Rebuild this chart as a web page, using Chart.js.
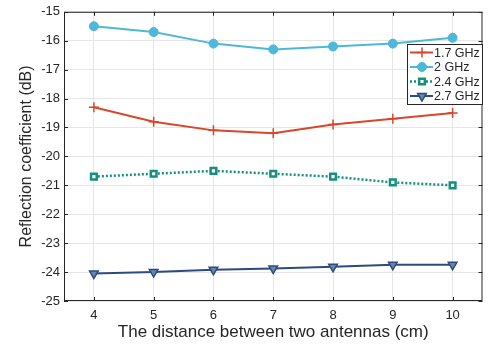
<!DOCTYPE html>
<html>
<head>
<meta charset="utf-8">
<script src="https://cdn.jsdelivr.net/npm/chart.js@4.4.1/dist/chart.umd.min.js"></script>
<style>
  body { margin: 0; background: #fff; }
  #wrap { width: 489px; height: 347px; }
</style>
</head>
<body>
<div id="wrap"><canvas id="myChart" width="489" height="347"></canvas></div>
<script>
// data
let distances = [4, 5, 6, 7, 8, 9, 10];
let names = ['1.7 GHz', '2 GHz', '2.4 GHz', '2.7 GHz'];
let ghz17 = [-18.3, -18.8, -19.1, -19.2, -18.9, -18.7, -18.5];
let ghz2  = [-15.5, -15.7, -16.1, -16.3, -16.2, -16.1, -15.9];
let ghz24 = [-20.7, -20.6, -20.5, -20.6, -20.7, -20.9, -21.0];
let ghz27 = [-24.05, -24.0, -23.92, -23.88, -23.82, -23.75, -23.75];
let yTicks = [-15, -16, -17, -18, -19, -20, -21, -22, -23, -24, -25];

function pts(arr) {
  return distances.map((d, i) => ({ x: d, y: arr[i] }));
}

// box, inner tick marks and the legend inside the axes
const matlabBox = {
  id: 'matlabBox',
  afterDraw(chart) {
    const c = chart.ctx, a = chart.chartArea;
    const xs = chart.scales.x, ys = chart.scales.y;
    c.save();
    c.strokeStyle = '#262626';
    c.lineWidth = 1;
    c.strokeRect(a.left + 0.5, a.top + 0.5, a.right - a.left - 1, a.bottom - a.top - 1);
    c.beginPath();
    distances.forEach(d => {
      let px = Math.round(xs.getPixelForValue(d)) + 0.5;
      c.moveTo(px, a.bottom); c.lineTo(px, a.bottom - 4);
      c.moveTo(px, a.top); c.lineTo(px, a.top + 4);
    });
    yTicks.forEach(v => {
      let py = Math.round(ys.getPixelForValue(v)) + 0.5;
      c.moveTo(a.left, py); c.lineTo(a.left + 4, py);
      c.moveTo(a.right, py); c.lineTo(a.right - 4, py);
    });
    c.stroke();

    // legend
    let lx = 407, ly = 44, lw = 75, lh = 60;
    c.fillStyle = '#fff';
    c.fillRect(lx, ly, lw, lh);
    c.strokeStyle = '#262626';
    c.strokeRect(lx + 0.5, ly + 0.5, lw, lh);
    c.font = '12.5px "Liberation Sans", Arial, sans-serif';
    c.textBaseline = 'middle';
    chart.data.datasets.forEach((ds, i) => {
      let y = ly + 8.5 + i * 14.5;
      c.strokeStyle = ds.borderColor;
      c.lineWidth = ds.borderWidth;
      c.setLineDash(ds.borderDash || []);
      c.beginPath(); c.moveTo(lx + 3, y); c.lineTo(lx + 26, y); c.stroke();
      c.setLineDash([]);
      c.fillStyle = ds.pointBackgroundColor;
      c.strokeStyle = ds.pointBorderColor;
      c.lineWidth = ds.pointBorderWidth || 1;
      Chart.helpers.drawPoint(c, {
        pointStyle: ds.pointStyle, radius: ds.pointRadius, rotation: ds.pointRotation || 0,
        borderWidth: ds.pointBorderWidth || 1
      }, lx + 15, y);
      c.fillStyle = '#262626';
      c.fillText(ds.label, lx + 27, y + 1);
    });
    c.restore();
  }
};

const config = {
  type: 'line',
  data: {
    datasets: [
      {
        label: names[0], data: pts(ghz17),
        borderColor: '#d9472b', borderWidth: 2,
        pointStyle: 'cross', pointRadius: 5, pointBorderWidth: 1.5,
        pointBackgroundColor: '#d9472b', pointBorderColor: '#d9472b'
      },
      {
        label: names[1], data: pts(ghz2),
        borderColor: '#4db8d8', borderWidth: 2,
        pointStyle: 'circle', pointRadius: 4.5, pointBorderWidth: 1,
        pointBackgroundColor: '#4db8d8', pointBorderColor: '#4db8d8'
      },
      {
        label: names[2], data: pts(ghz24),
        borderColor: '#16907e', borderWidth: 2.5, borderDash: [2, 2],
        pointStyle: 'rect', pointRadius: 4, pointBorderWidth: 2.5,
        pointBackgroundColor: '#ffffff', pointBorderColor: '#16907e'
      },
      {
        label: names[3], data: pts(ghz27),
        borderColor: '#2d4b80', borderWidth: 2,
        pointStyle: 'triangle', pointRadius: 5, pointRotation: 180, pointBorderWidth: 1.5,
        pointBackgroundColor: '#6b84ad', pointBorderColor: '#2d4b80'
      }
    ]
  },
  options: {
    responsive: false,
    animation: false,
    layout: { padding: { top: 5, right: 2, left: 0, bottom: 0 } },
    plugins: { legend: { display: false }, tooltip: { enabled: false } },
    scales: {
      x: {
        type: 'linear', min: 3.5, max: 10.5,
        afterBuildTicks(axis) { axis.ticks = distances.map(v => ({ value: v })); },
        afterFit(axis) { axis.height = 46; },
        grid: { color: '#e6e6e6', drawTicks: false },
        border: { display: false },
        ticks: { color: '#262626', padding: 7, font: { family: '"Liberation Sans", Arial, sans-serif', size: 13 } },
        title: { display: true, text: 'The distance between two antennas (cm)', color: '#262626', padding: { top: 2 },
          font: { family: '"Liberation Sans", Arial, sans-serif', size: 17 } }
      },
      y: {
        type: 'linear', min: -25, max: -15,
        afterBuildTicks(axis) { axis.ticks = yTicks.map(v => ({ value: v })); },
        afterFit(axis) { axis.width = 64; },
        grid: { color: '#e6e6e6', drawTicks: false },
        border: { display: false },
        ticks: { color: '#262626', padding: 4, font: { family: '"Liberation Sans", Arial, sans-serif', size: 13 } },
        title: { display: true, text: 'Reflection coefficient (dB)', color: '#262626', padding: { top: 17, bottom: 2 },
          font: { family: '"Liberation Sans", Arial, sans-serif', size: 16 } }
      }
    }
  },
  plugins: [matlabBox]
};

let canvasChart = document.getElementById('myChart');
const myChart = new Chart(canvasChart, config);
</script>
</body>
</html>
